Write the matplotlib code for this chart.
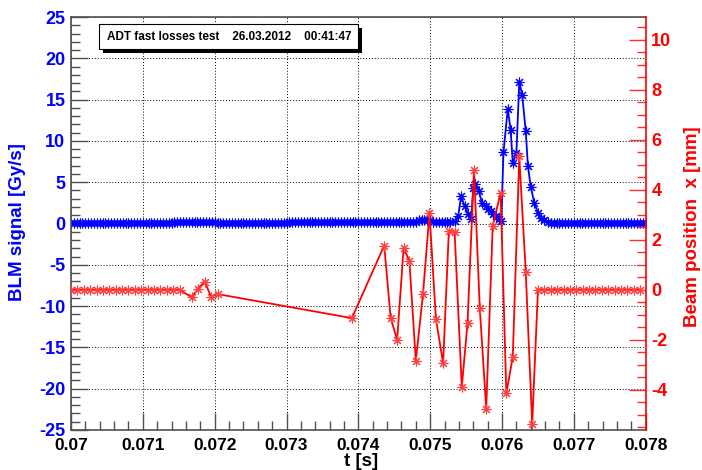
import numpy as np
import matplotlib
matplotlib.use("Agg")
from matplotlib import pyplot as plt
from matplotlib.patches import Rectangle
from matplotlib.ticker import MultipleLocator, FixedLocator

plt.rcParams['font.family'] = ['Liberation Sans', 'DejaVu Sans']
plt.rcParams['font.weight'] = 'bold'
plt.rcParams['axes.unicode_minus'] = False

# --- data ---
# BLM signal (blue), 40 us sampling, baseline levels per time segment
blue_dt = 0.00004
blue_seg_start = [0.0700, 0.0714, 0.0720, 0.0730, 0.0748, 0.0750]
blue_seg_level = [0.05, 0.2, 0.05, 0.15, 0.4, 0.15]
blue_evt_t = [0.07534, 0.07539, 0.07543, 0.07548, 0.07553, 0.07557, 0.07560,
              0.07562, 0.07568, 0.07572, 0.07577, 0.07581, 0.07584, 0.07588,
              0.07592, 0.07596, 0.07599, 0.07602, 0.07608, 0.07612, 0.07615,
              0.07620, 0.07624, 0.07628, 0.07633, 0.07636, 0.07640, 0.07645,
              0.07650, 0.07654, 0.07659, 0.07664]
blue_evt_v = [0.3, 0.9, 3.3, 2.1, 1.2, 0.6, 4.3,
              4.8, 3.9, 2.5, 2.1, 1.8, 1.5, 1.2,
              0.9, 0.6, 0.3, 8.6, 13.9, 11.3, 7.3,
              8.5, 17.1, 15.6, 11.2, 7.0, 4.4, 2.5,
              1.3, 0.7, 0.4, 0.2]
blue_after_level = 0.1

# beam position (red), turn by turn (88.9 us)
red_dt = 0.0000889
red_evt_t = [0.07168, 0.07177, 0.07186, 0.07195, 0.07204, 0.07391,
             0.07436, 0.07445, 0.07454, 0.07463, 0.07471, 0.07480, 0.07490,
             0.07499, 0.07508, 0.07518, 0.07526, 0.07534, 0.07544, 0.07552,
             0.07561, 0.07569, 0.07578, 0.07587, 0.07598, 0.07606, 0.07615,
             0.07624, 0.07633, 0.07642, 0.07650]
red_evt_v = [-0.29, 0.05, 0.33, -0.27, -0.17, -1.13,
             1.77, -1.13, -2.0, 1.67, 1.16, -2.84, -0.17,
             3.07, -1.17, -2.93, 2.37, 2.31, -3.89, -1.31,
             4.8, -0.71, -4.75, 2.55, 3.88, -4.13, -2.67,
             5.33, 0.73, -5.36, 0.0]

x_ticks = [0.070, 0.071, 0.072, 0.073, 0.074, 0.075, 0.076, 0.077, 0.078]
x_tick_labels = ["0.07", "0.071", "0.072", "0.073", "0.074", "0.075",
                 "0.076", "0.077", "0.078"]
title_text = "ADT fast losses test    26.03.2012    00:41:47"

# build the sampled series
t_b1 = np.arange(0.0700, 0.07532, blue_dt)
idx = np.searchsorted(blue_seg_start, t_b1, side='right') - 1
v_b1 = np.array(blue_seg_level)[idx]
t_b2 = np.arange(0.07668, 0.078 + 1e-7, blue_dt)
v_b2 = np.full(len(t_b2), blue_after_level)
blue_t = np.concatenate([t_b1, blue_evt_t, t_b2])
blue_v = np.concatenate([v_b1, blue_evt_v, v_b2])

t_r1 = 0.0700 + red_dt * np.arange(18)
t_r2 = 0.07659 + red_dt * np.arange(16)
red_t = np.concatenate([t_r1, red_evt_t, t_r2])
red_v = np.concatenate([np.zeros(len(t_r1)), red_evt_v, np.zeros(len(t_r2))])

W, H = 702, 470
fig = plt.figure(figsize=(W / 100, H / 100), dpi=100)
L, R, T, B = 71, 645.7, 17, 430
ax = fig.add_axes([L / W, 1 - B / H, (R - L) / W, (B - T) / H])
ax2 = ax.twinx()

star = (8, 2, 0)
ax.plot(blue_t, blue_v, color='blue', lw=1.3, marker=star, ms=7, mew=0.8)
ax2.plot(red_t, red_v, color='red', lw=1.3, marker=star, ms=7, mew=0.8,
         mec='#ff4040')

ax.set_xlim(0.070, 0.078)
ax.set_ylim(-25, 25)
ax2.set_ylim(-5.6, 10.9)

ax.xaxis.set_major_locator(FixedLocator(x_ticks))
ax.set_xticklabels(x_tick_labels)
ax.xaxis.set_minor_locator(MultipleLocator(0.0002))
ax.yaxis.set_major_locator(MultipleLocator(5))
ax.yaxis.set_minor_locator(MultipleLocator(1))
ax2.yaxis.set_major_locator(MultipleLocator(2))
ax2.yaxis.set_minor_locator(MultipleLocator(0.5))

frame_c = '#505050'
ax.tick_params(axis='x', which='both', direction='in', top=False,
               color=frame_c, labelsize=12.5, pad=6, labelcolor='black')
ax.tick_params(axis='y', which='both', direction='in', right=False,
               color=frame_c, labelsize=13, pad=4, labelcolor='blue')
ax.tick_params(which='major', length=12, width=1)
ax.tick_params(which='minor', length=6.5, width=1)
ax2.tick_params(axis='y', which='both', direction='in', color='#ff3030',
                labelcolor='red', labelsize=13, pad=4)
ax2.tick_params(which='major', length=12, width=1)
ax2.tick_params(which='minor', length=6.5, width=1)

ax.grid(True, which='major', color='black', ls=(0, (1, 2)), lw=0.7)

for s in ['left', 'top', 'bottom']:
    ax.spines[s].set_color(frame_c)
    ax.spines[s].set_linewidth(1.2)
    ax2.spines[s].set_visible(False)
ax.spines['right'].set_visible(False)
ax2.spines['right'].set_color('red')
ax2.spines['right'].set_linewidth(1.2)

fig.text(18 / W, 1 - 222.5 / H, "BLM signal [Gy/s]", color='blue',
         fontsize=13.5, rotation=90, ha='center', va='center')
fig.text(692.7 / W, 1 - 226.5 / H, "Beam position  x [mm]", color='red',
         fontsize=13.5, rotation=90, ha='center', va='center')
fig.text(361 / W, 1 - 462 / H, "t [s]", color='black', fontsize=13.5,
         ha='center', va='center')

# title box with shadow
bx0, by0, bx1, by1 = 99.3, 24, 358.3, 49.3
sh = 3.5
fig.patches.append(Rectangle(((bx0 + sh) / W, 1 - (by1 + sh) / H),
                             (bx1 - bx0) / W, (by1 - by0) / H,
                             transform=fig.transFigure, facecolor='black',
                             edgecolor='black', lw=0, zorder=5))
fig.patches.append(Rectangle((bx0 / W, 1 - by1 / H),
                             (bx1 - bx0) / W, (by1 - by0) / H,
                             transform=fig.transFigure, facecolor='white',
                             edgecolor='black', lw=0.8, zorder=6))
fig.text((bx0 + bx1) / 2 / W, 1 - (by0 + by1) / 2 / H, title_text,
         fontsize=8.5, ha='center', va='center', zorder=7)

fig.savefig("out.png", dpi=100)
